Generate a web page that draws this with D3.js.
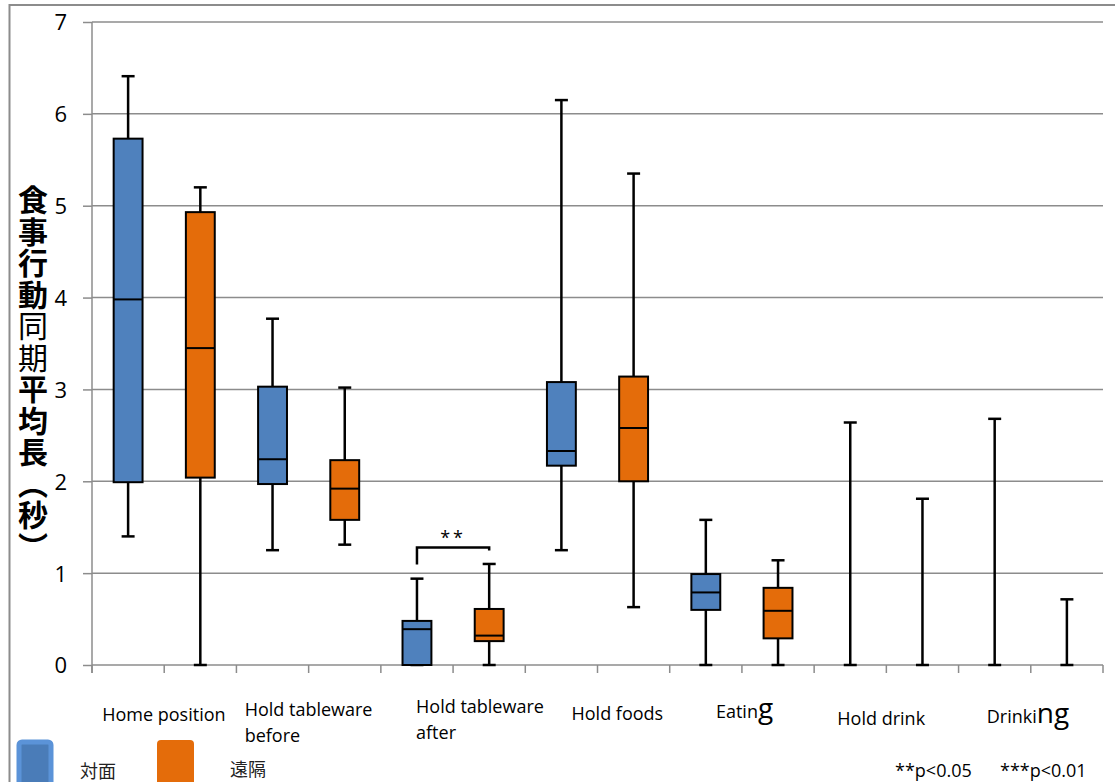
<!DOCTYPE html>
<html>
<head>
<meta charset="utf-8">
<script src="https://cdn.jsdelivr.net/npm/d3@7"></script>
<style>
  html, body { margin: 0; padding: 0; background: #fff; }
  svg { display: block; }
</style>
</head>
<body>
<svg id="chart" width="1115" height="782"></svg>
<script>
// ---------------- data ----------------
const categories = ["Home position", "Hold tableware before", "Hold tableware after", "Hold foods", "Eating", "Hold drink", "Drinking"];
const groups = ["対面", "遠隔"];
const yTicks = [0, 1, 2, 3, 4, 5, 6, 7];

// 対面 (face to face)
const faceMin = [1.40, 1.25, 0.00, 1.25, 0.00, 0.00, 0.00];
const faceQ1  = [1.99, 1.97, 0.00, 2.17, 0.60, 0.00, 0.00];
const faceMed = [3.98, 2.24, 0.39, 2.33, 0.79, 0.00, 0.00];
const faceQ3  = [5.73, 3.03, 0.48, 3.08, 0.99, 0.00, 0.00];
const faceMax = [6.41, 3.77, 0.94, 6.15, 1.58, 2.64, 2.68];

// 遠隔 (remote)
const remoteMin = [0.00, 1.31, 0.00, 0.63, 0.00, 0.00, 0.00];
const remoteQ1  = [2.04, 1.58, 0.26, 2.00, 0.29, 0.00, 0.00];
const remoteMed = [3.45, 1.92, 0.32, 2.58, 0.59, 0.00, 0.00];
const remoteQ3  = [4.93, 2.23, 0.61, 3.14, 0.84, 0.00, 0.00];
const remoteMax = [5.20, 3.02, 1.10, 5.35, 1.14, 1.81, 0.715];

// significance annotation
const sigCategory = "Hold tableware after";
const sigLevel = 1.28;
const sigText = "**";
const footnotes = ["**p<0.05", "***p<0.01"];
const yTitleParts = [["食事行動", "bold"], ["同期", "normal"], ["平均長（秒）", "bold"]];

// ---------------- layout (not data) ----------------
const W = 1115, H = 782;
const plot = { left: 92, right: 1103, top: 22, bottom: 665 };
const colors = { "対面": "#4f81bd", "遠隔": "#e46c0a" };
const latin = "'Open Sans', 'Liberation Sans', sans-serif";
const cjk = "'Noto Sans CJK JP', 'Noto Sans CJK SC', sans-serif";
// label placement relative to category centre
const labelLayout = [
  { dx: -62, y: 721, lines: ["Home position"] },
  { dx: -64, y: 716, lines: ["Hold tableware", "before"] },
  { dx: -37, y: 713, lines: ["Hold tableware", "after"] },
  { dx: -26, y: 720, lines: ["Hold foods"] },
  { dx: -26, y: 718, lines: ["Eatin", "g"], big: true },
  { dx: -49, y: 725, lines: ["Hold drink"] },
  { dx: -44, y: 723, lines: ["Drinki", "ng"], big: true }
];

const svg = d3.select("#chart");
svg.append("rect").attr("width", W).attr("height", H).attr("fill", "#fff");

// outer chart frame
svg.append("rect").attr("x", 9.5).attr("y", 5).attr("width", 1200).attr("height", 900)
  .attr("fill", "none").attr("stroke", "#8c8c8c").attr("stroke-width", 2);

const y = d3.scaleLinear().domain([0, 7]).range([plot.bottom, plot.top]);
const x = d3.scaleBand().domain(categories).range([plot.left, plot.right]).padding(0);
const xs = d3.scaleBand().domain(groups).range([0, x.bandwidth()]).padding(0);

// gridlines
svg.append("g").selectAll("line").data(yTicks.filter(d => d > 0)).join("line")
  .attr("x1", plot.left).attr("x2", plot.right)
  .attr("y1", d => y(d)).attr("y2", d => y(d))
  .attr("stroke", "#8c8c8c").attr("stroke-width", 1.5);

// y axis
const yAxis = d3.axisLeft(y).tickValues(yTicks).tickSize(9).tickPadding(16).tickFormat(d3.format("d"));
const gy = svg.append("g").attr("transform", `translate(${plot.left},0)`).call(yAxis);
gy.select(".domain").remove();
gy.selectAll(".tick line").attr("stroke", "#8c8c8c").attr("stroke-width", 1.5);
gy.selectAll(".tick text").attr("font-family", latin).attr("font-size", 22).attr("fill", "#000").attr("dy", "0.36em");
svg.append("line").attr("x1", plot.left).attr("x2", plot.left).attr("y1", plot.top).attr("y2", plot.bottom + 8)
  .attr("stroke", "#8c8c8c").attr("stroke-width", 1.5);

// x axis with a tick at every group slot boundary
const slotEdges = [];
categories.forEach(c => groups.forEach(g => slotEdges.push(x(c) + xs(g))));
slotEdges.push(plot.right);
svg.append("line").attr("x1", plot.left).attr("x2", plot.right).attr("y1", y(0)).attr("y2", y(0))
  .attr("stroke", "#8c8c8c").attr("stroke-width", 1.5);
svg.append("g").selectAll("line").data(slotEdges).join("line")
  .attr("x1", d => d).attr("x2", d => d).attr("y1", y(0)).attr("y2", y(0) + 8)
  .attr("stroke", "#8c8c8c").attr("stroke-width", 1.5);

// boxes
const series = [
  { g: "対面", min: faceMin, q1: faceQ1, med: faceMed, q3: faceQ3, max: faceMax },
  { g: "遠隔", min: remoteMin, q1: remoteQ1, med: remoteMed, q3: remoteQ3, max: remoteMax }
];
const boxW = xs.bandwidth() * 0.4;
const capW = 13;
series.forEach(s => {
  const rows = categories.map((c, i) => ({
    c, cx: x(c) + xs(s.g) + xs.bandwidth() / 2,
    min: s.min[i], q1: s.q1[i], med: s.med[i], q3: s.q3[i], max: s.max[i]
  }));
  const g = svg.append("g");
  g.selectAll(".whisker").data(rows).join("line")
    .attr("x1", d => d.cx).attr("x2", d => d.cx)
    .attr("y1", d => y(d.min)).attr("y2", d => y(d.max))
    .attr("stroke", "#000").attr("stroke-width", 2.5);
  g.selectAll(".capTop").data(rows).join("line")
    .attr("x1", d => d.cx - capW / 2).attr("x2", d => d.cx + capW / 2)
    .attr("y1", d => y(d.max)).attr("y2", d => y(d.max))
    .attr("stroke", "#000").attr("stroke-width", 2.5);
  g.selectAll(".capBot").data(rows).join("line")
    .attr("x1", d => d.cx - capW / 2).attr("x2", d => d.cx + capW / 2)
    .attr("y1", d => y(d.min)).attr("y2", d => y(d.min))
    .attr("stroke", "#000").attr("stroke-width", 2.5);
  g.selectAll(".box").data(rows.filter(d => d.q3 > d.q1)).join("rect")
    .attr("x", d => d.cx - boxW / 2).attr("width", boxW)
    .attr("y", d => y(d.q3)).attr("height", d => y(d.q1) - y(d.q3))
    .attr("fill", colors[s.g]).attr("stroke", "#000").attr("stroke-width", 2);
  g.selectAll(".med").data(rows.filter(d => d.q3 > d.q1)).join("line")
    .attr("x1", d => d.cx - boxW / 2).attr("x2", d => d.cx + boxW / 2)
    .attr("y1", d => y(d.med)).attr("y2", d => y(d.med))
    .attr("stroke", "#000").attr("stroke-width", 2);
});

// significance bracket
const bx1 = x(sigCategory) + xs(groups[0]) + xs.bandwidth() / 2;
const bx2 = x(sigCategory) + xs(groups[1]) + xs.bandwidth() / 2;
const by = y(sigLevel);
svg.append("path")
  .attr("d", `M${bx1},${by + 17}V${by}H${bx2}V${by + 3}`)
  .attr("fill", "none").attr("stroke", "#000").attr("stroke-width", 2.5);
svg.append("text").attr("x", (bx1 + bx2) / 2).attr("y", by - 3)
  .attr("text-anchor", "middle").attr("font-family", latin).attr("font-size", 18)
  .attr("letter-spacing", 3).text(sigText);

// category labels
categories.forEach((c, i) => {
  const L = labelLayout[i];
  const cx = x(c) + x.bandwidth() / 2 + L.dx;
  const t = svg.append("text").attr("x", cx).attr("y", L.y)
    .attr("font-family", latin).attr("font-size", 18).attr("fill", "#000");
  if (L.big) {
    t.append("tspan").text(L.lines[0]);
    t.append("tspan").attr("font-size", 28).text(L.lines[1]);
  } else {
    L.lines.forEach((ln, k) => t.append("tspan").attr("x", cx).attr("dy", k === 0 ? 0 : 26).text(ln));
  }
});

// y-axis title (vertical)
const yt = svg.append("text").attr("x", 33).attr("y", 185)
  .style("writing-mode", "vertical-rl")
  .attr("font-family", cjk).attr("font-size", 30).attr("letter-spacing", 1.5).attr("fill", "#000");
yTitleParts.forEach(p => yt.append("tspan").attr("font-weight", p[1]).text(p[0]));

// legend
const lg = svg.append("g");
lg.append("rect").attr("x", 19).attr("y", 742).attr("width", 32).attr("height", 50).attr("rx", 3)
  .attr("fill", "#4a7cb8").attr("stroke", "#5b93d8").attr("stroke-width", 5);
lg.append("text").attr("x", 80).attr("y", 778).attr("font-family", cjk).attr("font-size", 18)
  .attr("fill", "#222").text(groups[0]);
lg.append("rect").attr("x", 157).attr("y", 740).attr("width", 37).attr("height", 60).attr("rx", 4)
  .attr("fill", colors["遠隔"]);
lg.append("text").attr("x", 230).attr("y", 776).attr("font-family", cjk).attr("font-size", 18)
  .attr("fill", "#222").text(groups[1]);

// footnotes
svg.append("text").attr("x", 895).attr("y", 777).attr("font-family", latin).attr("font-size", 18)
  .text(footnotes[0]);
svg.append("text").attr("x", 1000).attr("y", 777).attr("font-family", latin).attr("font-size", 18)
  .text(footnotes[1]);
</script>
</body>
</html>
